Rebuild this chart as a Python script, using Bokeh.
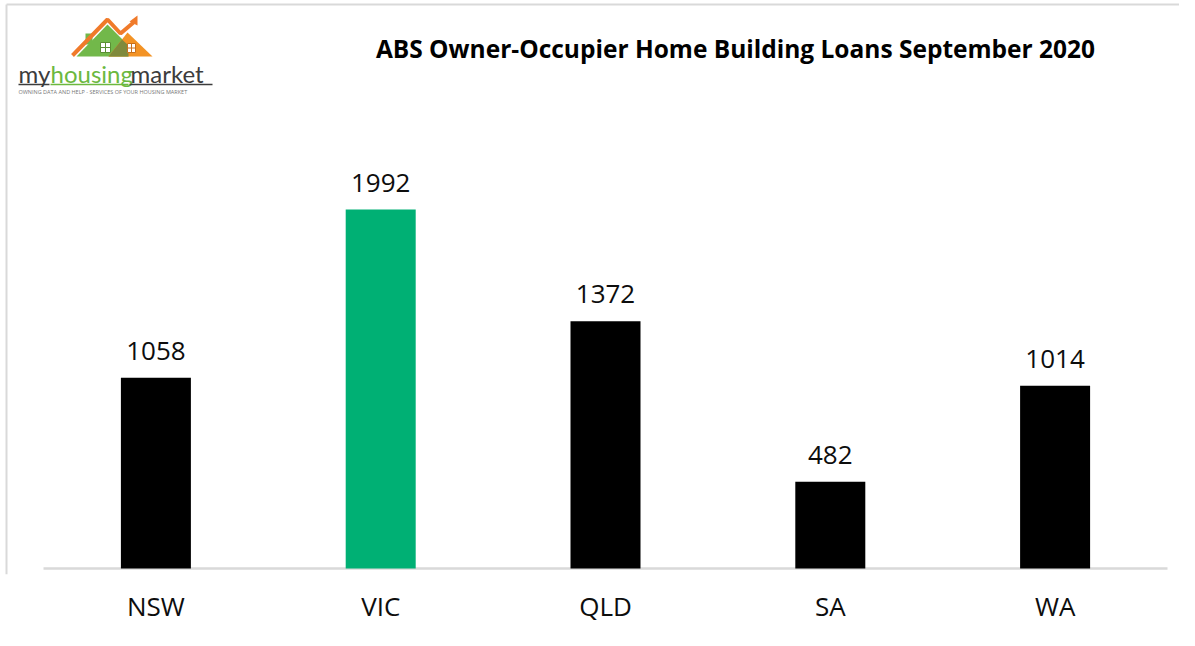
from bokeh.plotting import figure
from bokeh.models import ColumnDataSource, LabelSet, FixedTicker, Range1d
from bokeh.core.properties import value
from bokeh.embed import file_html
from bokeh.resources import INLINE

# ---- data ----
states = ["NSW", "VIC", "QLD", "SA", "WA"]
loans = [1058, 1992, 1372, 482, 1014]
bar_colors = ["#000000", "#00b074", "#000000", "#000000", "#000000"]
title_text = "ABS Owner-Occupier Home Building Loans September 2020"

# ---- layout constants (pixels) ----
W, H = 1179, 630
PLOT_L = 43          # px from figure left to first category slot
CAT_W = 224.8        # px per category slot
BASE = 568           # px from figure top to bar baseline
PXU = 0.18022        # px per loan unit
FRAME_B = BASE + 6   # frame bottom

x_start = -PLOT_L / CAT_W
x_end = (W - PLOT_L) / CAT_W
y_start = -(FRAME_B - BASE) / PXU
y_end = BASE / PXU


def fx(px):
    return (px - PLOT_L) / CAT_W


def fy(py):
    return (BASE - py) / PXU


xs = [i + 0.5 for i in range(len(states))]
src = ColumnDataSource(dict(x=xs, loans=loans, color=bar_colors,
                            label=[str(v) for v in loans], state=states))

p = figure(width=W, height=H, output_backend="svg", toolbar_location=None,
           x_range=Range1d(x_start, x_end), y_range=Range1d(y_start, y_end),
           y_axis_location=None,
           min_border_left=0, min_border_right=0, min_border_top=0,
           min_border_bottom=H - FRAME_B)
p.outline_line_color = None
p.grid.visible = False
p.background_fill_color = "white"
p.border_fill_color = "white"

# baseline
p.segment(x0=[0], y0=[0], x1=[len(states)], y1=[0], line_color="#d9d9d9", line_width=2.5)

# bars
p.vbar(x="x", top="loans", bottom=0, width=70 / CAT_W, fill_color="color",
       line_color=None, source=src)

labels = LabelSet(x="x", y="loans", text="label", source=src, text_align="center",
                  text_baseline="alphabetic", y_offset=18,
                  text_font=value("Open Sans"), text_font_size="26px",
                  text_color="#0d0d0d")
p.add_layout(labels)

# x axis
ax = p.xaxis[0]
ax.ticker = FixedTicker(ticks=xs)
ax.major_label_overrides = {x: s for x, s in zip(xs, states)}
ax.axis_line_color = None
ax.major_tick_line_color = None
ax.minor_tick_line_color = None
ax.major_tick_out = 0
ax.major_tick_in = 0
ax.major_label_standoff = 13
ax.major_label_text_font = "Open Sans"
ax.major_label_text_font_size = "26px"
ax.major_label_text_color = "#0d0d0d"

# title
p.text(x=[fx(735)], y=[fy(48)], text=[title_text], text_align="center",
       text_baseline="alphabetic", text_font=value("Open Sans"),
       text_font_style="bold", text_font_size="24.5px", text_color="#000000")

# frame border lines (light grey)
p.segment(x0=[fx(6)], y0=[fy(4)], x1=[fx(6)], y1=[y_start], line_color="#d9d9d9", line_width=2)
p.segment(x0=[fx(6)], y0=[fy(4)], x1=[x_end], y1=[fy(4)], line_color="#d9d9d9", line_width=2)

# ---- logo (decoration) ----
def poly(pts, **kw):
    p.patch([fx(a) for a, b in pts], [fy(b) for a, b in pts], line_color=None, **kw)

poly([(76, 56), (107, 24), (128, 45), (128, 56)], fill_color="#72b84a")
poly([(85, 33), (92, 33), (92, 44), (85, 44)], fill_color="#72b84a")
poly([(108, 56), (127, 32), (152, 56)], fill_color="#f39325")
poly([(108, 56), (121.5, 39), (128, 45), (128, 56)], fill_color="#7f8a3c")
p.line([fx(a) for a in (72, 107, 120, 133)], [fy(b) for b in (55, 19, 33, 22)],
       line_color="#f07a2a", line_width=4)
poly([(129, 21), (137, 15), (137, 25)], fill_color="#f07a2a")
for (x0, y0, x1, y1, lc) in [(100, 42, 110, 52, "#5a8f34"), (127, 43, 135, 52, "#c8701c")]:
    p.quad(left=[fx(x0)], right=[fx(x1)], top=[fy(y0)], bottom=[fy(y1)],
           fill_color="white", line_color=lc, line_width=1)
    p.segment(x0=[fx((x0 + x1) / 2), fx(x0)], y0=[fy(y0), fy((y0 + y1) / 2)],
              x1=[fx((x0 + x1) / 2), fx(x1)], y1=[fy(y1), fy((y0 + y1) / 2)],
              line_color=lc, line_width=1)

for word, lx, col in [("my", 18, "#3c3c3c"), ("housing", 50, "#6cb83f"), ("market", 130, "#3c3c3c")]:
    p.text(x=[fx(lx)], y=[fy(73)], text=[word], text_align="left", text_baseline="alphabetic",
           text_font=value("Lato"), text_font_size="24px", text_color=col)
p.segment(x0=[fx(18), fx(50), fx(129)], y0=[fy(84)] * 3, x1=[fx(49), fx(128), fx(212)],
          y1=[fy(84)] * 3, line_color=["#3c3c3c", "#6cb83f", "#3c3c3c"], line_width=1.5)
p.text(x=[fx(18)], y=[fy(91)], text=["OWNING DATA AND HELP - SERVICES OF YOUR HOUSING MARKET"],
       text_align="left", text_baseline="alphabetic", text_font=value("Open Sans"),
       text_font_size="5.5px", text_color="#777777")

open("out.html", "w").write(file_html(p, INLINE))
